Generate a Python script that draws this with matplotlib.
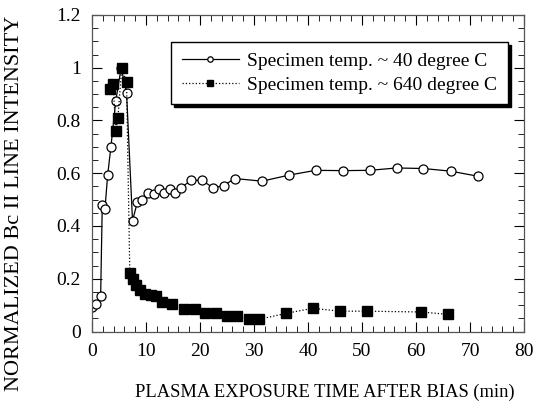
import matplotlib
matplotlib.use("Agg")
import matplotlib.pyplot as plt
from matplotlib.ticker import MultipleLocator

plt.rcParams['font.family'] = ['Liberation Serif', 'DejaVu Serif']

# Specimen temp ~ 40 degree C
t40 = [0.0, 0.8, 1.6, 1.9, 2.4, 2.9, 3.5, 4.4, 5.4, 6.4, 7.5, 8.4, 9.3, 10.4,
       11.5, 12.4, 13.3, 14.4, 15.4, 16.4, 18.4, 20.4, 22.4, 24.4, 26.4, 31.5,
       36.5, 41.4, 46.4, 51.4, 56.4, 61.3, 66.4, 71.4]
v40 = [0.094, 0.103, 0.134, 0.48, 0.465, 0.593, 0.70, 0.874, 1.0, 0.905, 0.42,
       0.49, 0.50, 0.525, 0.52, 0.54, 0.525, 0.54, 0.525, 0.545, 0.573, 0.573,
       0.545, 0.553, 0.58, 0.57, 0.593, 0.611, 0.61, 0.611, 0.62, 0.618, 0.608,
       0.589]

# Specimen temp ~ 640 degree C
t640 = [3.3, 3.9, 4.4, 4.8, 5.5, 6.4, 7.0, 7.6, 8.2, 8.8, 9.9, 10.9, 11.8,
        13.0, 14.9, 17.0, 19.0, 20.9, 22.9, 25.0, 26.9, 29.0, 30.9, 36.0, 40.9,
        45.9, 50.9, 60.9, 65.9]
v640 = [0.92, 0.94, 0.76, 0.81, 1.0, 0.945, 0.22, 0.20, 0.177, 0.158, 0.142,
        0.139, 0.136, 0.113, 0.103, 0.084, 0.084, 0.069, 0.069, 0.06, 0.059,
        0.047, 0.046, 0.069, 0.088, 0.077, 0.077, 0.074, 0.065]

xticks = [0, 10, 20, 30, 40, 50, 60, 70, 80]
yticks = [0, 0.2, 0.4, 0.6, 0.8, 1.0, 1.2]
ytick_labels = ['0', '0.2', '0.4', '0.6', '0.8', '1', '1.2']

fig = plt.figure(figsize=(5.4, 4.04), dpi=100)
ax = fig.add_axes([92/540, 1-331.5/404, (524-92)/540, (331.5-15)/404])

ax.plot(t40, v40, '-', color='black', lw=0.9, marker='o', ms=6.5,
        mfc='white', mec='black', mew=0.9,
        label='Specimen temp. ~ 40 degree C')
ax.plot(t640, v640, ':', color='black', lw=0.9, marker='s', ms=6.5,
        mfc='black', mec='black',
        label='Specimen temp. ~ 640 degree C')

ax.set_xlim(0, 80)
ax.set_ylim(0, 1.2)
ax.set_xticks(xticks)
ax.set_xticklabels([str(x) for x in xticks])
ax.set_yticks(yticks)
ax.set_yticklabels(ytick_labels)
ax.xaxis.set_minor_locator(MultipleLocator(2))
ax.yaxis.set_minor_locator(MultipleLocator(0.05))
ax.tick_params(which='both', direction='in', top=True, right=True,
               labelsize=14, colors='black')
ax.tick_params(which='major', length=7, width=0.8, pad=8)
ax.tick_params(which='minor', length=4, width=0.6)
for s in ax.spines.values():
    s.set_color('#555555')
    s.set_linewidth(0.9)

ax.set_xlabel('PLASMA EXPOSURE TIME AFTER BIAS (min)', fontsize=13.3)
ax.xaxis.set_label_coords((325 - 92) / 432, -(384 - 331.5) / 316.5)
ax.set_ylabel('NORMALIZED Bc II LINE INTENSITY', fontsize=16)
ax.yaxis.set_label_coords((24 - 92) / 432, (331.5 - 203) / 316.5)

leg = ax.legend(loc='upper right', bbox_to_anchor=(0.963, 0.915), fontsize=14,
                fancybox=False, shadow={'color': 'black', 'alpha': 1},
                edgecolor='black', framealpha=1, markerscale=0.6,
                handlelength=2.9, handletextpad=0.45, borderpad=0.55,
                labelspacing=0.3, borderaxespad=0)
leg.get_frame().set_linewidth(1.0)

fig.savefig('out.png', dpi=100)
